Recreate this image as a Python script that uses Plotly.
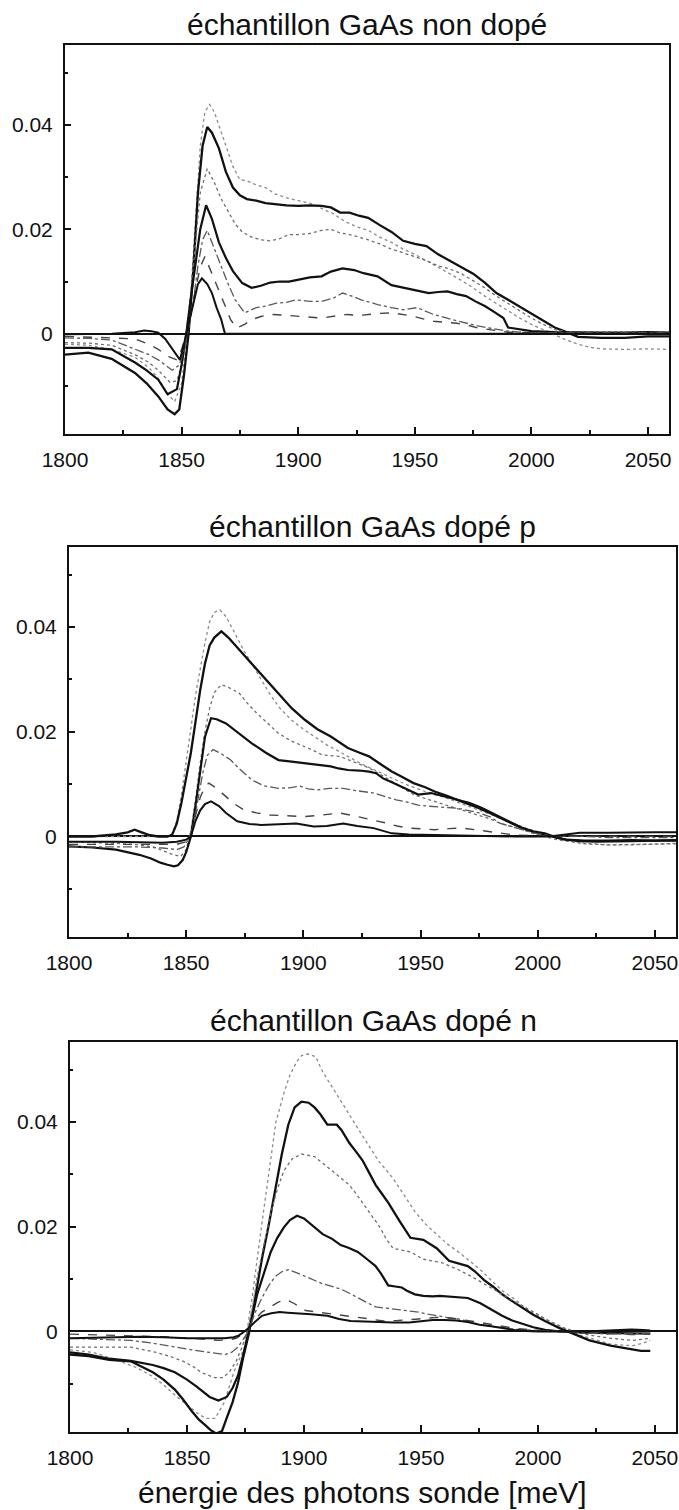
import plotly.graph_objects as go

# ---------------- échantillon GaAs non dopé ----------------
p1_a_x = [1800,1810,1820,1830,1836,1840,1844,1847,1850,1852,1854,1856,1858,1860,1862,1864,1866,1869,1872,1875,1878,1882,1886,1890,1895,1900,1905,1910,1915,1920,1925,1930,1935,1940,1945,1950,1955,1960,1965,1970,1975,1980,1985,1990,1995,2000,2005,2010,2015,2020,2025,2030,2040,2050,2059]
p1_a_y = [-0.002,-0.0022,-0.003,-0.0045,-0.0065,-0.0085,-0.0115,-0.013,-0.0095,-0.002,0.008,0.022,0.036,0.0425,0.0439,0.0425,0.040,0.036,0.032,0.0295,0.0293,0.0285,0.028,0.0268,0.026,0.0255,0.025,0.024,0.023,0.0215,0.0205,0.0198,0.0185,0.0175,0.0162,0.0152,0.014,0.0128,0.0115,0.0102,0.0088,0.0072,0.0058,0.0043,0.003,0.0018,0.0008,-0.0002,-0.0012,-0.002,-0.0026,-0.0029,-0.003,-0.0029,-0.003]

p1_b_x = [1800,1810,1820,1830,1835,1840,1844,1847,1849,1851,1853,1855,1857,1859,1861,1863,1866,1869,1872,1875,1878,1882,1886,1890,1895,1900,1905,1910,1914,1918,1922,1926,1930,1935,1940,1945,1950,1955,1960,1965,1970,1975,1980,1985,1990,1995,2000,2005,2010,2015,2020,2030,2040,2050,2059]
p1_b_y = [-0.004,-0.0036,-0.0048,-0.0075,-0.0095,-0.012,-0.0145,-0.0154,-0.0145,-0.008,0.0,0.012,0.027,0.036,0.0396,0.0385,0.0355,0.031,0.028,0.0265,0.0258,0.0255,0.025,0.0248,0.0246,0.0245,0.0246,0.0245,0.0242,0.0232,0.0232,0.0226,0.0222,0.0208,0.0195,0.0178,0.0172,0.0168,0.0152,0.014,0.0128,0.0115,0.0098,0.0078,0.0065,0.0052,0.0038,0.0025,0.0012,0.0003,-0.0006,-0.0008,-0.0008,-0.0005,-0.0005]

p1_c_x = [1800,1810,1820,1830,1836,1840,1845,1848,1850,1852,1854,1856,1858,1861,1864,1867,1870,1873,1876,1880,1884,1888,1892,1896,1900,1905,1910,1914,1918,1922,1926,1930,1935,1940,1945,1950,1955,1960,1965,1970,1975,1980,1985,1990,1995,2000,2005,2010,2015,2020,2030,2040,2050,2059]
p1_c_y = [-0.0017,-0.0018,-0.0022,-0.004,-0.0055,-0.007,-0.0093,-0.009,-0.006,0.0,0.008,0.018,0.027,0.0316,0.029,0.0258,0.0235,0.021,0.0195,0.0185,0.018,0.0178,0.0182,0.019,0.019,0.0192,0.0198,0.020,0.0193,0.019,0.0185,0.018,0.0172,0.0162,0.0155,0.0148,0.014,0.013,0.0124,0.0115,0.0101,0.0088,0.0072,0.0058,0.0044,0.0030,0.0018,0.0008,0.0004,0.0003,0.0003,0.0003,0.0004,0.0003]

p1_d_x = [1800,1810,1820,1830,1835,1840,1844,1848,1850,1852,1854,1856,1858,1860.5,1863,1866,1869,1872,1876,1880,1884,1888,1892,1896,1900,1905,1910,1914,1919,1924,1928,1934,1940,1945,1950,1956,1960,1964,1968,1972,1976,1980,1984,1988,1990,1995,2000,2010,2020,2030,2040,2050,2059]
p1_d_y = [-0.0027,-0.0027,-0.003,-0.0055,-0.007,-0.0088,-0.0116,-0.0106,-0.006,0.0,0.007,0.014,0.020,0.0246,0.022,0.0175,0.0145,0.012,0.0097,0.0088,0.0092,0.0098,0.0100,0.0100,0.0104,0.0108,0.0110,0.0119,0.0125,0.0122,0.0116,0.0110,0.0093,0.0088,0.0084,0.0078,0.0080,0.0081,0.0076,0.0072,0.0062,0.0053,0.0042,0.0030,0.0012,0.0008,0.0005,0.0003,0.0002,0.0002,0.0002,0.0003,0.0002]

p1_e_x = [1800,1810,1820,1830,1836,1840,1846,1849,1851,1853,1855,1857,1859,1861,1864,1867,1870,1873,1877,1882,1886,1891,1895,1899,1905,1910,1915,1919,1923,1927,1931,1934,1940,1945,1951,1958,1966,1972,1977,1982,1986,1990,1995,2000,2010,2020,2030,2040,2050,2059]
p1_e_y = [-0.0008,-0.0009,-0.0012,-0.003,-0.004,-0.005,-0.007,-0.006,-0.003,0.001,0.006,0.013,0.018,0.0198,0.0165,0.0129,0.0095,0.0065,0.004,0.005,0.0053,0.0059,0.006,0.0065,0.0062,0.0062,0.0068,0.0078,0.0072,0.0065,0.0060,0.0056,0.005,0.0046,0.005,0.0037,0.0027,0.002,0.0015,0.0011,0.0008,0.0005,0.0003,0.0002,0.0002,0.0002,0.0002,0.0002,0.0002,0.0002]

p1_f_x = [1800,1810,1820,1830,1836,1840,1845,1848,1850,1852,1854,1856,1858,1860,1863,1866,1869,1871,1873.6,1877,1880,1884,1888,1893,1899,1905,1910,1916,1921,1926,1930,1935,1940,1945,1949,1954,1958,1963,1968,1973,1977,1982,1986,1990,2000,2010,2030,2059]
p1_f_y = [-0.0005,-0.0006,-0.0008,-0.001,-0.002,-0.003,-0.0045,-0.005,-0.003,0.0,0.004,0.0085,0.0128,0.0148,0.0115,0.0084,0.005,0.0027,0.0011,0.0018,0.0027,0.0033,0.0037,0.0036,0.0034,0.0032,0.003,0.0034,0.0037,0.0035,0.0037,0.0039,0.004,0.0036,0.0034,0.0028,0.0024,0.0022,0.002,0.0016,0.0011,0.0008,0.0005,0.0003,0.0002,0.0001,0.0001,0.0001]

p1_g_x = [1800,1810,1820,1830,1834,1837,1840,1843,1846,1849.3,1851,1853,1855,1857,1858.7,1861,1863,1865,1867,1868.6,1875,1900,1950,2000,2059]
p1_g_y = [-0.0001,0.0,0.0,0.0003,0.0006,0.0005,0.0002,-0.001,-0.003,-0.005,-0.002,0.002,0.006,0.0095,0.0106,0.0095,0.0078,0.005,0.0027,0.0,0.0,0.0,0.0,0.0,0.0]

# ---------------- échantillon GaAs dopé p ----------------
p2_a_x = [1800,1815,1830,1838,1842,1844,1846,1848,1850,1852,1854,1856,1858,1860,1862,1864.4,1867,1870,1874,1878,1882,1886,1890,1895,1900,1905,1910,1915,1920,1925,1930,1935,1940,1945,1950,1955,1960,1965,1970,1975,1980,1985,1990,1995,2000,2005,2010,2015,2020,2030,2040,2050,2059]
p2_a_y = [0.0,0.0,0.0,0.0,0.0,0.0005,0.003,0.008,0.0146,0.021,0.027,0.032,0.037,0.041,0.0428,0.0433,0.042,0.0395,0.036,0.033,0.030,0.027,0.0245,0.0222,0.0205,0.019,0.0175,0.0163,0.015,0.0138,0.0128,0.0117,0.0107,0.0097,0.0089,0.0081,0.0075,0.0067,0.0059,0.0051,0.0042,0.0033,0.0024,0.0016,0.0009,0.0003,-0.0003,-0.0009,-0.0013,-0.0016,-0.0016,-0.0014,-0.0013]

p2_b_x = [1800,1810,1815,1820,1825,1828,1831,1834,1838,1842,1844,1846,1848,1850,1852,1854,1856,1858,1860,1862,1865,1868,1871,1875,1880,1885,1890,1895,1900.6,1906,1911.7,1915,1919,1924,1928,1933,1937.7,1942,1947,1952,1956,1961,1965.6,1970,1975,1980,1984,1989,1993.5,1998,2003,2008,2012,2018,2025,2032,2040,2050,2059]
p2_b_y = [0.0,0.0,0.0002,0.0004,0.0008,0.0013,0.0008,0.0003,0.0,0.0,0.0003,0.0025,0.0065,0.011,0.016,0.022,0.028,0.033,0.0365,0.038,0.0392,0.038,0.0365,0.0345,0.032,0.0295,0.027,0.0245,0.0223,0.0205,0.0191,0.0181,0.0169,0.016,0.0153,0.0138,0.0124,0.0114,0.0102,0.0094,0.0086,0.0078,0.007,0.0063,0.0054,0.0044,0.0035,0.0025,0.0016,0.001,0.0006,-0.0002,-0.0006,-0.0009,-0.001,-0.001,-0.0009,-0.0008,-0.0008]

p2_c_x = [1800,1810,1820,1830,1836,1840,1844,1847.7,1850,1852,1854,1856,1858,1860,1862,1865,1868,1872.6,1876,1880,1885,1889.4,1895,1900.6,1904,1908,1912,1915.5,1919,1923,1928,1932,1937.7,1942,1947,1951,1956,1961,1965.6,1970,1975,1980,1984,1989,1993.5,1998,2003,2008,2014,2020,2030,2040,2050,2059]
p2_c_y = [-0.001,-0.0011,-0.0013,-0.0016,-0.002,-0.0027,-0.0034,-0.0038,-0.0025,0.001,0.007,0.014,0.020,0.0245,0.0275,0.029,0.0285,0.0274,0.0255,0.0236,0.0215,0.0197,0.0182,0.0172,0.0165,0.0156,0.0155,0.0153,0.0147,0.014,0.0131,0.0121,0.0105,0.0093,0.008,0.0074,0.0067,0.006,0.0054,0.0048,0.0041,0.0033,0.0025,0.0019,0.0013,0.0006,0.0,-0.0006,-0.001,-0.0014,-0.0016,-0.0015,-0.0015,-0.0014]

p2_d_x = [1800,1810,1820,1830,1835,1839,1842,1844.8,1846.5,1848.5,1850,1852,1854,1856,1858,1860.6,1863,1867,1872,1878,1884,1889.4,1895,1900.6,1906,1911.7,1915,1919,1924,1928,1931,1934,1938,1941.5,1945,1949,1954.5,1959,1963.7,1967,1971,1976,1980.5,1986,1993.5,1998,2003,2008,2012,2020,2030,2040,2050,2059]
p2_d_y = [-0.0019,-0.0021,-0.0025,-0.0035,-0.0042,-0.005,-0.0054,-0.0057,-0.0055,-0.0045,-0.003,0.0,0.006,0.013,0.019,0.0226,0.0224,0.0216,0.0198,0.0178,0.016,0.0146,0.0143,0.014,0.0137,0.0134,0.013,0.0127,0.0126,0.0124,0.0121,0.0111,0.0103,0.0096,0.0088,0.008,0.0083,0.0078,0.0073,0.0069,0.0064,0.0055,0.0045,0.0034,0.0016,0.0009,0.0003,-0.0002,-0.0006,-0.0008,-0.0008,-0.0007,-0.0008,-0.0007]

p2_e_x = [1800,1815,1830,1840,1846,1849,1851,1853,1855,1857,1859,1861.5,1865,1869,1873,1878,1883,1889.4,1894,1898.7,1902,1906,1911,1917,1922,1926,1930,1935,1939.6,1944,1949,1953,1956,1961,1965.6,1970,1975,1980,1984,1989,1993.5,1998,2003,2010,2020,2030,2040,2050,2059]
p2_e_y = [-0.002,-0.002,-0.002,-0.0022,-0.0025,-0.002,-0.0005,0.002,0.007,0.012,0.0155,0.0166,0.0158,0.0146,0.0128,0.0108,0.0097,0.0092,0.0093,0.0096,0.0091,0.0089,0.0092,0.0092,0.0088,0.0085,0.0083,0.0076,0.007,0.0066,0.006,0.0058,0.0057,0.0056,0.0054,0.005,0.0045,0.0037,0.0025,0.0019,0.0013,0.0007,0.0003,0.0001,0.0,-0.0002,-0.0002,-0.0002,-0.0002]

p2_f_x = [1800,1820,1840,1846,1850,1852,1854,1856,1858,1859.7,1863,1867,1870,1874.5,1880,1885.7,1892,1900.6,1908,1915.5,1921,1926.6,1931,1936,1940,1945,1950,1956,1962,1967.5,1973,1979,1985,1990,2000,2059]
p2_f_y = [-0.0015,-0.0015,-0.0016,-0.0015,-0.001,0.0,0.004,0.0075,0.0095,0.0102,0.0092,0.0076,0.0064,0.0051,0.0045,0.0041,0.004,0.0038,0.0041,0.0045,0.004,0.0035,0.003,0.0025,0.002,0.0016,0.0014,0.0013,0.0015,0.0016,0.0013,0.001,0.0006,0.0003,0.0001,0.0]

p2_g_x = [1800,1820,1840,1846,1850,1852,1854,1856,1858,1860.6,1864,1867,1871.8,1877,1882,1890,1897,1904.4,1910,1917,1923,1930,1934,1937.7,1945,1956,1970,1990,2005,2012,2018,2030,2040,2050,2059]
p2_g_y = [-0.001,-0.001,-0.0012,-0.001,-0.0006,0.0,0.003,0.005,0.0062,0.0067,0.0058,0.0045,0.0029,0.0024,0.0022,0.0023,0.0025,0.0019,0.002,0.0025,0.002,0.0016,0.0011,0.0006,0.0004,0.0003,0.0001,0.0,0.0,0.0004,0.0007,0.0007,0.0008,0.0008,0.0008]

# ---------------- échantillon GaAs dopé n ----------------
p3_a_x = [1800,1810,1820,1828,1835,1840,1845,1850,1855,1858,1862,1866,1870,1874.6,1878,1882,1885.8,1888,1891.4,1894,1897,1899,1901.7,1905,1908,1912,1917.5,1922,1927,1932,1938,1943,1947.4,1952,1956.7,1961,1966,1970,1975.4,1980,1984.7,1990,1994,1998,2003,2007,2011,2018,2025,2031,2036,2040.7,2045,2048]
p3_a_y = [-0.0035,-0.004,-0.0055,-0.0068,-0.0085,-0.0102,-0.0122,-0.014,-0.0158,-0.0166,-0.0166,-0.0135,-0.0078,-0.003,0.007,0.0206,0.0334,0.04,0.0455,0.049,0.0516,0.0527,0.053,0.0525,0.0496,0.0468,0.0428,0.0395,0.036,0.0325,0.0293,0.0258,0.0229,0.0205,0.0186,0.0168,0.0152,0.0137,0.0118,0.0098,0.0078,0.0062,0.0047,0.0035,0.0024,0.0015,0.0007,-0.0007,-0.0016,-0.0024,-0.0026,-0.0027,-0.0022,-0.0017]

p3_b_x = [1800,1808,1816.8,1826,1835.4,1840,1844.8,1848,1852,1855,1857.8,1860,1862.5,1865,1867,1869.5,1871.8,1874,1876.5,1879,1882,1885,1887.7,1890.5,1893.3,1896,1898.9,1902,1904.5,1907,1910,1914,1916,1919.4,1922,1925,1928,1930.6,1933,1936,1941,1945.5,1951,1956.7,1962,1966,1970,1973,1977,1981,1984.7,1989,1994,1998,2003,2006,2009,2014.5,2022,2031,2039,2044,2048]
p3_b_y = [-0.0044,-0.0047,-0.0054,-0.0057,-0.0078,-0.0092,-0.0111,-0.0128,-0.0152,-0.0168,-0.0179,-0.0188,-0.0195,-0.019,-0.0165,-0.0135,-0.0098,-0.005,-0.0003,0.0065,0.0138,0.0205,0.0273,0.0338,0.0395,0.0428,0.0439,0.0437,0.0428,0.0415,0.0395,0.0395,0.0385,0.036,0.0345,0.0327,0.0302,0.028,0.0265,0.0246,0.021,0.0179,0.0175,0.0159,0.0135,0.013,0.0125,0.0115,0.0098,0.0085,0.0071,0.0058,0.0044,0.0032,0.002,0.0013,0.0007,-0.0003,-0.0017,-0.0027,-0.0034,-0.0037,-0.0037]

p3_c_x = [1800,1816.8,1826,1837,1843,1848.5,1853,1856,1861.6,1865.3,1868,1871,1873.5,1875.6,1878,1880,1883,1885.8,1888.5,1891.4,1895,1898.9,1904.5,1908,1912,1916,1919.4,1922,1925,1928,1932.5,1935,1938,1945.5,1951,1958.6,1966,1971.6,1977,1984.7,1990,1994,2000,2003,2007,2011,2016,2022,2031,2040.7,2048]
p3_c_y = [-0.003,-0.003,-0.003,-0.004,-0.0048,-0.0057,-0.0068,-0.0078,-0.0088,-0.0088,-0.0078,-0.0057,-0.003,-0.0003,0.0045,0.0105,0.017,0.0226,0.027,0.0307,0.033,0.0339,0.0334,0.0322,0.0307,0.0292,0.028,0.0265,0.0246,0.0225,0.0199,0.0178,0.0159,0.0152,0.0138,0.0132,0.0118,0.0105,0.0091,0.0071,0.0056,0.0047,0.0033,0.0024,0.0015,0.0007,0.0,-0.0007,-0.0013,-0.0017,-0.0013]

p3_d_x = [1800,1808,1816.8,1826,1835.4,1840,1844.8,1850,1854,1857,1859.7,1863.4,1867,1869.5,1871.8,1874,1875.6,1878,1880,1883,1885.8,1888.5,1891.4,1894,1897,1900,1902.6,1905,1908,1912,1915.7,1919,1923,1927,1930.6,1933,1936,1939,1941.8,1944,1947.4,1951,1955,1958,1962,1966,1970,1975.4,1980,1984.7,1989,1994,1998,2003,2010,2020,2030,2040,2048]
p3_d_y = [-0.004,-0.0044,-0.0052,-0.0056,-0.0064,-0.007,-0.0078,-0.0092,-0.0105,-0.0115,-0.0125,-0.0132,-0.0125,-0.0108,-0.0084,-0.0045,-0.0017,0.003,0.0071,0.0115,0.0152,0.0178,0.0199,0.0213,0.0221,0.0216,0.0206,0.0198,0.0186,0.0177,0.0165,0.016,0.0152,0.0138,0.0125,0.011,0.0088,0.0086,0.0084,0.0078,0.0071,0.0068,0.0067,0.0068,0.0067,0.0066,0.0064,0.0054,0.0042,0.003,0.0021,0.0013,0.0008,0.0003,0.0,-0.0002,-0.0003,-0.0004,-0.0004]

p3_e_x = [1800,1813,1826,1835,1844.8,1852,1859.7,1866.2,1869,1871.8,1874,1876.5,1879,1882,1885,1887.7,1890.5,1893.3,1897,1900.7,1904,1908,1912,1915.7,1919,1923,1927,1930.6,1934,1938,1943,1949,1953,1956.7,1961,1966,1970,1975.4,1980,1984.7,1990,2000,2010,2020,2030,2040,2048]
p3_e_y = [-0.0013,-0.0015,-0.0017,-0.0022,-0.003,-0.0035,-0.004,-0.0044,-0.004,-0.003,-0.0015,0.0003,0.0035,0.0064,0.0088,0.0105,0.0114,0.0118,0.0112,0.0105,0.0098,0.0091,0.0086,0.0081,0.0074,0.0064,0.0055,0.0047,0.0045,0.0044,0.0041,0.0037,0.0033,0.003,0.0027,0.0024,0.0019,0.0013,0.001,0.0007,0.0004,0.0002,0.0,-0.0003,-0.0005,-0.0004,-0.0003]

p3_f_x = [1800,1820,1840,1855,1863.4,1868,1871,1873.5,1875.6,1878,1882,1886,1889,1892.4,1896,1900.7,1906,1912,1918,1923,1928,1934,1940,1949,1956.7,1961,1966,1975.4,1980,1984.7,1990,2000,2010,2020,2030,2040,2048]
p3_f_y = [-0.0005,-0.0007,-0.001,-0.0014,-0.0017,-0.0016,-0.0013,-0.0006,0.0003,0.0018,0.0037,0.0048,0.0056,0.0061,0.0053,0.004,0.0037,0.0034,0.0031,0.0027,0.0024,0.002,0.0021,0.0024,0.0027,0.0026,0.0024,0.0017,0.0013,0.001,0.0006,0.0002,0.0,0.0,-0.0003,-0.0006,-0.0005]

p3_g_x = [1800,1815,1830,1840,1850,1858,1866,1870,1872,1874,1876,1879,1882,1886,1889.6,1893,1897,1903,1910,1915,1920,1925,1930,1938,1945,1950,1955,1960,1965,1970,1975,1980,1985,1990,1995,2000,2010,2020,2030,2035,2040,2045,2048]
p3_g_y = [-0.0013,-0.0012,-0.001,-0.0011,-0.0013,-0.0013,-0.0013,-0.0011,-0.0008,-0.0002,0.0005,0.0018,0.003,0.0035,0.0037,0.0036,0.0035,0.0033,0.003,0.0024,0.002,0.0019,0.0018,0.0017,0.0017,0.002,0.0022,0.0022,0.0021,0.0018,0.0013,0.001,0.0006,0.0003,0.0001,0.0,0.0,0.0,0.0002,0.0003,0.0004,0.0003,0.0002]

titles = ["échantillon GaAs non dopé", "échantillon GaAs dopé p", "échantillon GaAs dopé n"]
x_label = "énergie des photons sonde [meV]"
x_ticks = [1800, 1850, 1900, 1950, 2000, 2050]
y_ticks = [0, 0.02, 0.04]
y_tick_text = ["0", "0.02", "0.04"]

panels = [
    [(p1_a_x, p1_a_y), (p1_b_x, p1_b_y), (p1_c_x, p1_c_y), (p1_d_x, p1_d_y),
     (p1_e_x, p1_e_y), (p1_f_x, p1_f_y), (p1_g_x, p1_g_y)],
    [(p2_a_x, p2_a_y), (p2_b_x, p2_b_y), (p2_c_x, p2_c_y), (p2_d_x, p2_d_y),
     (p2_e_x, p2_e_y), (p2_f_x, p2_f_y), (p2_g_x, p2_g_y)],
    [(p3_a_x, p3_a_y), (p3_b_x, p3_b_y), (p3_c_x, p3_c_y), (p3_d_x, p3_d_y),
     (p3_e_x, p3_e_y), (p3_f_x, p3_f_y), (p3_g_x, p3_g_y)],
]

# line style for the seven curves of each panel (largest to smallest)
styles = [
    dict(color="#8a8a8a", width=1.3, dash="dot"),
    dict(color="#111111", width=2.3, dash="solid"),
    dict(color="#6e6e6e", width=1.3, dash="dot"),
    dict(color="#111111", width=2.2, dash="solid"),
    dict(color="#5a5a5a", width=1.3, dash="dashdot"),
    dict(color="#444444", width=1.4, dash="dash"),
    dict(color="#111111", width=2.0, dash="solid"),
]

W, H = 679, 1510
# plot boxes in pixels: (left, right, top, bottom)
boxes = [(65, 669, 45, 434), (69, 676, 547, 937), (70, 676, 1042, 1432)]
# bottom edge (px) of each panel title
title_bottoms = [43, 545, 1039]

FONT = "Liberation Sans, Arial, Helvetica, sans-serif"

fig = go.Figure()
layout = dict(
    template="none",
    width=W, height=H,
    margin=dict(l=0, r=0, t=0, b=0, autoexpand=False),
    paper_bgcolor="white", plot_bgcolor="white",
    showlegend=False,
    font=dict(family=FONT, color="#111111", size=21),
)

annotations = []
for i, (curves, box) in enumerate(zip(panels, boxes)):
    n = "" if i == 0 else str(i + 1)
    xa, ya = "x" + n, "y" + n
    for (cx, cy), st in zip(curves, styles):
        fig.add_trace(go.Scatter(x=cx, y=cy, mode="lines", line=st,
                                 xaxis=xa, yaxis=ya, hoverinfo="skip"))
    l, r, t, b = box
    layout["xaxis" + n] = dict(
        domain=[l / W, r / W], anchor=ya, range=[1800, 2059], automargin=False,
        tickvals=x_ticks, ticktext=[str(v) for v in x_ticks],
        ticks="inside", ticklen=7, tickwidth=1.5, tickcolor="#111",
        minor=dict(dtick=25, tick0=1800, ticks="inside", ticklen=4, tickcolor="#111"),
        showline=True, linecolor="#111", linewidth=2, mirror=True,
        showgrid=False, zeroline=False, ticklabelstandoff=6,
        tickfont=dict(size=21, family=FONT, color="#111"),
    )
    layout["yaxis" + n] = dict(
        domain=[1 - b / H, 1 - t / H], anchor=xa, range=[-0.0192, 0.0553], automargin=False,
        tickvals=y_ticks, ticktext=y_tick_text,
        ticks="inside", ticklen=6, tickwidth=1.5, tickcolor="#111",
        minor=dict(dtick=0.01, tick0=0, ticks="inside", ticklen=3, tickcolor="#111"),
        showline=True, linecolor="#111", linewidth=2, mirror=True,
        showgrid=False, zeroline=True, zerolinecolor="#111", zerolinewidth=2,
        tickfont=dict(size=21, family=FONT, color="#111"),
        ticklabelstandoff=6,
    )
    annotations.append(dict(
        text=titles[i], x=(l + r) / 2 / W, y=1 - title_bottoms[i] / H,
        xref="paper", yref="paper", xanchor="center", yanchor="bottom",
        showarrow=False, font=dict(size=30, family=FONT, color="#111"),
    ))

annotations.append(dict(
    text=x_label, x=362 / W, y=1 - 1492 / H, xref="paper", yref="paper",
    xanchor="center", yanchor="middle", showarrow=False,
    font=dict(size=30, family=FONT, color="#111"),
))
layout["annotations"] = annotations
fig.update_layout(**layout)
fig.write_html("out.html")
